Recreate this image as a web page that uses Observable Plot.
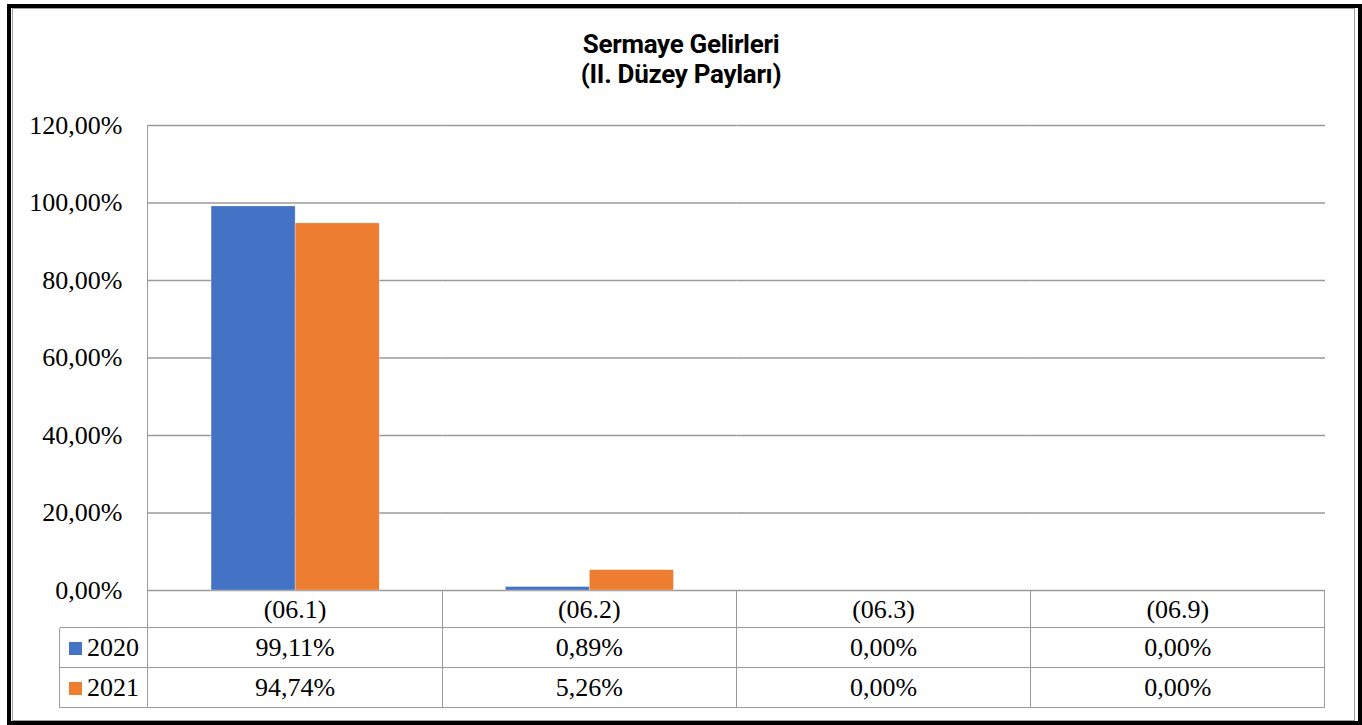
<!DOCTYPE html>
<html>
<head>
<meta charset="utf-8">
<script src="https://cdn.jsdelivr.net/npm/d3@7"></script>
<script src="https://cdn.jsdelivr.net/npm/@observablehq/plot@0.6"></script>
<style>
  html, body { margin: 0; padding: 0; background: #fff; overflow: hidden; }
  #wrap { position: relative; width: 1362px; height: 725px; }
  #wrap svg { position: absolute; left: 0; top: 0; }
  .abs { position: absolute; box-sizing: border-box; }
  .title { left: 0; width: 1362px; text-align: center; font-family: "Liberation Sans Narrow", "Roboto", sans-serif; font-weight: 700; font-size: 26px; color: #000; line-height: 29px; letter-spacing: -0.3px; }
  .cell { position: absolute; display: flex; align-items: center; justify-content: center; font-family: "Liberation Serif", "Times New Roman", serif; font-size: 26px; color: #000; }
  .hl { position: absolute; height: 0; border-top: 1.5px solid #9a9a9a; }
  .vl { position: absolute; width: 0; border-left: 1.5px solid #9a9a9a; }
</style>
</head>
<body>
<div id="wrap"></div>
<script>
const categories = ["(06.1)", "(06.2)", "(06.3)", "(06.9)"];
const years = ["2020", "2021"];
const values2020 = [99.11, 0.89, 0.00, 0.00];
const values2021 = [94.74, 5.26, 0.00, 0.00];
const yTicks = [0, 20, 40, 60, 80, 100, 120];
const seriesColors = ["#4472C4", "#ED7D31"];
const titleLines = ["Sermaye Gelirleri", "(II. Düzey Payları)"];

const seriesValues = [values2020, values2021];
const data = categories.flatMap((c, i) => years.map((y, j) => ({cat: c, year: y, v: seriesValues[j][i]})));
const fmt = v => v.toFixed(2).replace(".", ",") + "%";

const W = 1362, H = 725;
const mL = 148, mR = 37, mT = 125, mB = 135;

const chart = Plot.plot({
  width: W, height: H,
  marginLeft: mL, marginRight: mR, marginTop: mT, marginBottom: mB,
  style: {fontFamily: "'Liberation Serif', 'Times New Roman', serif", color: "#000", background: "transparent", overflow: "visible"},
  fx: {domain: categories, paddingInner: 0, paddingOuter: 0, axis: null, round: false, label: null},
  x: {domain: years, paddingInner: 0, paddingOuter: 0.75, axis: null, round: false, label: null},
  y: {domain: [0, 120], axis: null, label: null},
  color: {domain: years, range: seriesColors},
  marks: [
    Plot.gridY(yTicks, {stroke: "#9a9a9a", strokeOpacity: 1, strokeWidth: 1.5}),
    Plot.barY(data, {fx: "cat", x: "year", y: "v", fill: "year", stroke: "#fff", strokeWidth: 0.5, strokeOpacity: 0.6}),
    Plot.axisY(yTicks, {tickSize: 0, tickPadding: 26, tickFormat: fmt, fontSize: 26, fill: "#000", label: null})
  ]
});

const wrap = document.getElementById("wrap");
wrap.appendChild(chart);

function addDiv(cls, style, text) {
  const d = document.createElement("div");
  d.className = cls;
  Object.assign(d.style, style);
  if (text != null) d.textContent = text;
  wrap.appendChild(d);
  return d;
}

// Outer double border
addDiv("abs", {left: "7px", top: "4px", width: (1362 - 7) + "px", height: (725 - 4) + "px", border: "4px solid #000"});
addDiv("abs", {left: "12px", top: "8px", width: (1355 - 12) + "px", height: (721 - 8) + "px", border: "1.5px solid #a0a0a0"});

// Title
titleLines.forEach((t, i) => addDiv("abs title", {top: (30 + i * 30) + "px"}, t));

// Data table
const left = mL, right = W - mR;
const step = (right - left) / categories.length;
const y0 = H - mB;           // 590
const rowH = [38, 40, 40];
const rowTop = [y0, y0 + rowH[0], y0 + rowH[0] + rowH[1]];
const tableBottom = rowTop[2] + rowH[2];
const legendLeft = 60;

// vertical line at plot left edge from top of plot to bottom of table
addDiv("vl", {left: (left - 0.75) + "px", top: mT + "px", height: (tableBottom - mT) + "px"});
// category separators
categories.forEach((c, i) => {
  const x = left + step * (i + 1);
  addDiv("vl", {left: (x - 0.75) + "px", top: y0 + "px", height: (tableBottom - y0) + "px"});
});
// legend column left edge
addDiv("vl", {left: (legendLeft - 0.75) + "px", top: rowTop[1] + "px", height: (tableBottom - rowTop[1]) + "px"});
// horizontal lines
[rowTop[1], rowTop[2], tableBottom].forEach(y => {
  addDiv("hl", {left: legendLeft + "px", top: (y - 0.75) + "px", width: (right - legendLeft) + "px"});
});

// header labels
categories.forEach((c, i) => {
  addDiv("cell", {left: (left + step * i) + "px", top: (rowTop[0] + 1) + "px", width: step + "px", height: rowH[0] + "px"}, c);
});
// values rows
years.forEach((yr, j) => {
  const top = rowTop[j + 1];
  const lc = addDiv("cell", {left: legendLeft + "px", top: top + "px", width: (left - legendLeft) + "px", height: rowH[j + 1] + "px", justifyContent: "flex-start", paddingLeft: "9px", boxSizing: "border-box"});
  const sw = document.createElement("span");
  Object.assign(sw.style, {display: "inline-block", width: "13px", height: "13px", background: seriesColors[j], marginRight: "5px"});
  lc.appendChild(sw);
  const lt = document.createElement("span");
  lt.textContent = yr;
  lc.appendChild(lt);
  seriesValues[j].forEach((v, i) => {
    addDiv("cell", {left: (left + step * i) + "px", top: top + "px", width: step + "px", height: rowH[j + 1] + "px"}, fmt(v));
  });
});
</script>
</body>
</html>
